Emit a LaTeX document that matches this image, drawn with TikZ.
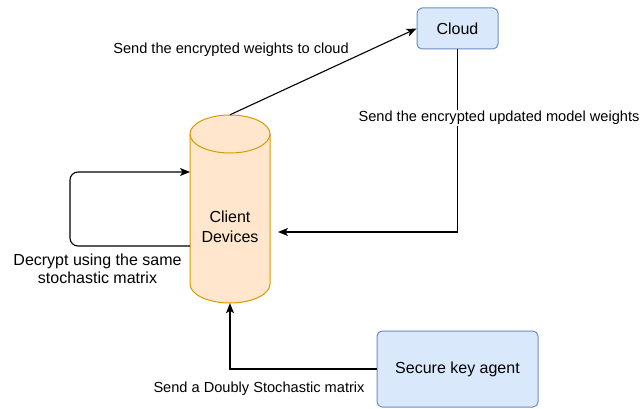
\documentclass[tikz,border=0pt]{standalone}
\usepackage{fontspec}
\setmainfont{Liberation Sans}
\usetikzlibrary{arrows.meta}
\definecolor{bluefill}{HTML}{DAE8FC}
\definecolor{blueline}{HTML}{6C8EBF}
\definecolor{orangefill}{HTML}{FFE6CC}
\definecolor{orangeline}{HTML}{D79B00}
\begin{document}
\begin{tikzpicture}[x=1pt,y=1pt,
  box/.style={draw=blueline, fill=bluefill, rounded corners=5pt, line width=1pt,
    font=\fontsize{16}{20}\selectfont, inner sep=0pt},
  lbl/.style={font=\fontsize{14.6}{18}\selectfont, inner sep=1pt, align=center},
  arr/.style={draw=black, line width=1.1pt,
    -{Stealth[length=10pt,width=8pt,inset=2.5pt]}}]
\useasboundingbox (0,0) rectangle (641,408);

% boxes
\node[box, minimum width=81pt, minimum height=41pt] (cloud) at (457.5,379.5) {Cloud};
\node[box, minimum width=161pt, minimum height=76pt] (agent) at (457.5,39) {Secure key agent};

% client devices cylinder
\node[minimum width=80pt, minimum height=188pt, inner sep=0pt] (cd) at (230,199) {};
\fill[orangefill] (190,274) -- (190,124) arc[start angle=180, end angle=360, x radius=40, y radius=19]
  -- (270,274) arc[start angle=0, end angle=180, x radius=40, y radius=19] -- cycle;
\draw[orangeline, line width=1pt] (190,274) -- (190,124)
  arc[start angle=180, end angle=360, x radius=40, y radius=19] -- (270,274);
\draw[orangeline, line width=1pt] (230,274) ellipse[x radius=40, y radius=19];
\node[font=\fontsize{16}{20}\selectfont, align=center] (cdtext) at (230,181) {Client\\Devices};

% connectors
\coordinate (cdin) at (278,176);
\coordinate (loopout) at (190,162);
\coordinate (loopin) at (190,236);
\draw[arr] (cd.north) -- (cloud.west);
\draw[arr] (cloud.south) |- (cdin);
\draw[arr, rounded corners=8pt] (loopout) -- (70,162) |- (loopin);
\draw[arr] (agent.west) -| (cd.south);

% labels
\node[lbl] (l1) at (231,358) {Send the encrypted weights to cloud};
\node[lbl, fill=white] (l2) at (499,290) {Send the encrypted updated model weights};
\node[lbl, font=\fontsize{16}{18.5}\selectfont] (l3) at (97.5,139) {Decrypt using the same\\stochastic matrix};
\node[lbl] (l4) at (259,19) {Send a Doubly Stochastic matrix};
\end{tikzpicture}
\end{document}
